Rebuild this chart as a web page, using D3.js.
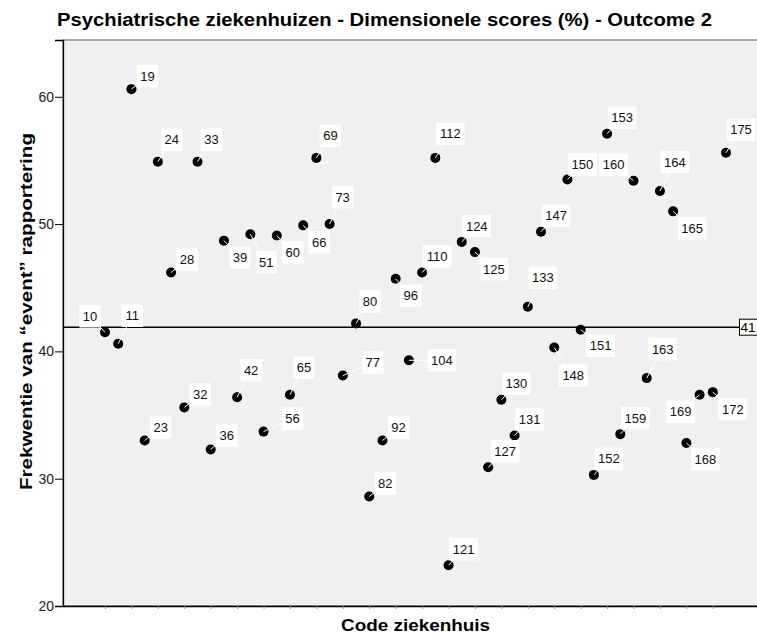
<!DOCTYPE html>
<html><head><meta charset="utf-8">
<script src="https://cdn.jsdelivr.net/npm/d3@7"></script>
<style>body{margin:0;background:#fff}svg{display:block;font-family:Arial,"Liberation Sans",sans-serif}</style>
</head><body><svg id="c" width="757" height="634"></svg>
<script>
const hospitals = [10,11,19,23,24,28,32,33,36,39,42,51,56,60,65,66,69,73,77,80,82,92,96,104,110,112,121,124,125,127,130,131,133,147,148,150,151,152,153,159,160,163,164,165,168,169,172,175];
const values = [41.5,40.6,60.6,33.0,54.9,46.2,35.6,54.9,32.3,48.7,36.4,49.2,33.7,49.1,36.6,49.9,55.2,50.0,38.1,42.2,28.6,33.0,45.7,39.3,46.2,55.2,23.2,48.6,47.8,30.9,36.2,33.4,43.5,49.4,40.3,53.5,41.7,30.3,57.1,33.5,53.4,37.9,52.6,51.0,32.8,36.6,36.8,55.6];
const yTicks = [20,30,40,50,60];
const refValue = 41.9;
const title = "Psychiatrische ziekenhuizen - Dimensionele scores (%) - Outcome 2";
const yTitle = "Frekwentie van \u201Cevent\u201D rapportering";
const xTitle = "Code ziekenhuis";

// label placement (box centre offset from point), layout only
const labelOffset = {10:[-15,-16],11:[14,-28],19:[16,-13],23:[16,-13],24:[14,-22],28:[16,-13],32:[16,-13],33:[14,-22],36:[16,-14],39:[16,17],42:[14,-27],51:[16,28],56:[29,-13],60:[16,17],65:[14,-27],66:[16,17],69:[14,-22],73:[13,-27],77:[30,-13],80:[14,-22],82:[16,-13],92:[16,-13],96:[15,17],104:[33,0],110:[15,-16],112:[15,-24],121:[15,-16],124:[15,-16],125:[19,17],127:[17,-16],130:[15,-16],131:[15,-16],133:[15,-29],147:[15,-16],148:[19,28],150:[15,-15],151:[20,16],152:[15,-16],153:[15,-16],159:[15,-16],160:[-20,-16],163:[16,-29],164:[15,-29],165:[19,17],168:[19,16],169:[-19,17],172:[20,17],175:[15,-23]};

const svg = d3.select("#c");
const plot = {left:63, top:40, right:790, bottom:606};
const x = d3.scalePoint().domain(hospitals).range([105, 726]);
const y = d3.scaleLinear().domain([20, 64.46]).range([plot.bottom, plot.top]);

svg.append("text").attr("x",384.5).attr("y",26).attr("text-anchor","middle")
  .attr("font-size",18).attr("font-weight","bold").attr("fill","#000").attr("textLength",655).attr("lengthAdjust","spacingAndGlyphs").text(title);

svg.append("rect").attr("x",plot.left).attr("y",plot.top).attr("width",plot.right-plot.left).attr("height",plot.bottom-plot.top)
  .attr("fill","#f0f0f0").attr("stroke","#555").attr("stroke-width",1);

// y axis
const yAxis = svg.append("g").attr("transform",`translate(${plot.left},0)`)
  .call(d3.axisLeft(y).tickValues(yTicks).tickSize(8).tickPadding(1).tickFormat(d3.format("d")));
yAxis.select(".domain").attr("stroke","#000").attr("stroke-width",1.3);
yAxis.selectAll(".tick line").attr("stroke","#000");
yAxis.selectAll(".tick text").attr("font-size",14).attr("fill","#222").attr("font-family","Arial, 'Liberation Sans', sans-serif");

// x axis
const xAxis = svg.append("g").attr("transform",`translate(0,${plot.bottom})`)
  .call(d3.axisBottom(x).tickValues(hospitals.filter((d,i)=>i%2===0)).tickSize(3).tickFormat(""));
xAxis.select(".domain").attr("d",`M${plot.left},0.5H${plot.right}`).attr("stroke","#000").attr("stroke-width",1.3);
xAxis.selectAll(".tick line").attr("stroke","#999");

// reference line
svg.append("line").attr("x1",plot.left).attr("x2",plot.right).attr("y1",y(refValue)).attr("y2",y(refValue))
  .attr("stroke","#000").attr("stroke-width",1.5);
svg.append("rect").attr("x",739.5).attr("y",y(refValue)-8).attr("width",30).attr("height",16)
  .attr("fill","#fff").attr("stroke","#000").attr("stroke-width",1);
svg.append("text").attr("x",740.5).attr("y",y(refValue)+5).attr("font-size",13.5).attr("fill","#000").text(refValue.toFixed(1));

const data = hospitals.map((h,i)=>({h, v:values[i], px:x(h), py:y(values[i]), off:labelOffset[h]||[15,-16]}));

// points
svg.append("g").selectAll("circle").data(data).join("circle")
  .attr("cx",d=>d.px).attr("cy",d=>d.py).attr("r",5).attr("fill","#000");

// connectors
svg.append("g").selectAll("line").data(data).join("line")
  .attr("x1",d=>d.px).attr("y1",d=>d.py).attr("x2",d=>d.px+d.off[0]).attr("y2",d=>d.py+d.off[1])
  .attr("stroke","#fff").attr("stroke-width",1);

// label boxes
const lg = svg.append("g").selectAll("g").data(data).join("g")
  .attr("transform",d=>`translate(${d.px+d.off[0]},${d.py+d.off[1]})`);
lg.append("rect").attr("x",d=>-(String(d.h).length*3.6+3.5)).attr("y",-11.25)
  .attr("width",d=>String(d.h).length*7.2+7).attr("height",22.5).attr("fill","#fff");
lg.append("text").attr("text-anchor","middle").attr("y",4.6).attr("font-size",13).attr("fill","#111").text(d=>d.h);

// axis titles
svg.append("text").attr("transform","translate(32,311.5) rotate(-90)").attr("text-anchor","middle")
  .attr("font-size",17).attr("font-weight","bold").attr("fill","#000").attr("textLength",357).attr("lengthAdjust","spacingAndGlyphs").text(yTitle);
svg.append("text").attr("x",415.5).attr("y",631).attr("text-anchor","middle")
  .attr("font-size",17).attr("font-weight","bold").attr("fill","#000").attr("textLength",149).attr("lengthAdjust","spacingAndGlyphs").text(xTitle);
</script></body></html>
